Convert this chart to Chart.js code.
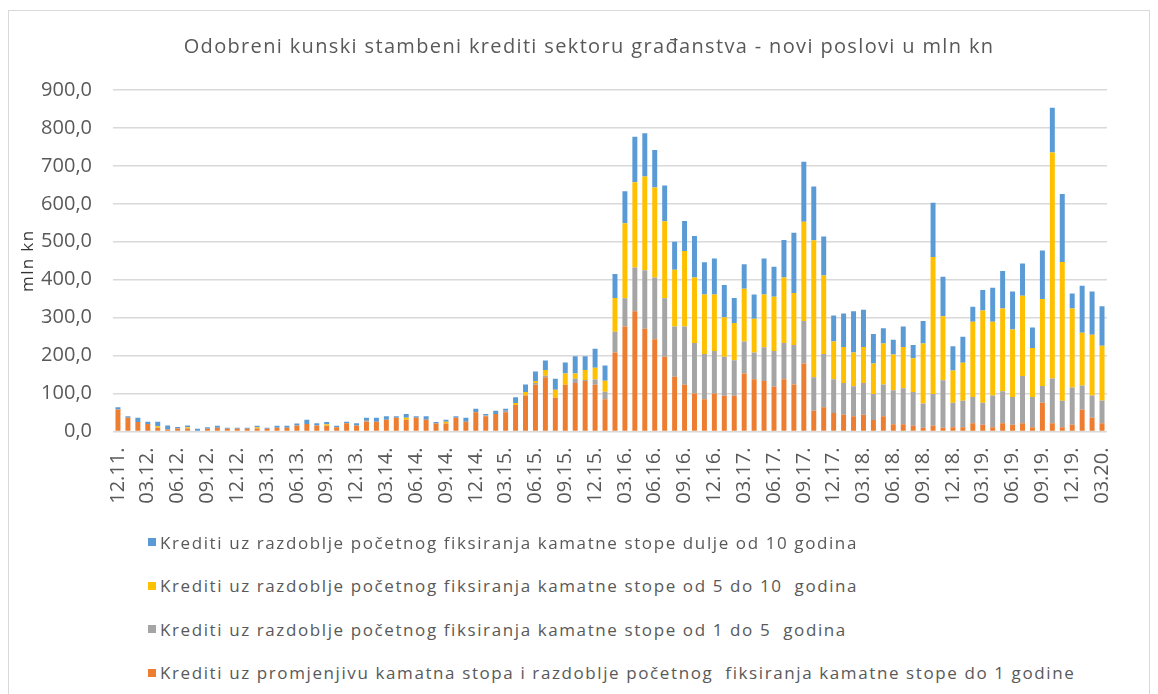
<!DOCTYPE html>
<html lang="hr">
<head>
<meta charset="UTF-8">
<title>Odobreni kunski stambeni krediti</title>
<script src="https://cdn.jsdelivr.net/npm/chart.js"></script>
<style>
  html, body { margin: 0; padding: 0; background: #fff; }
  body { width: 1158px; height: 694px; overflow: hidden; position: relative; font-family: "Open Sans", sans-serif; }
  .frame { position: absolute; left: 8px; top: 10px; width: 1140px; height: 700px; border: 1px solid #d9d9d9; }
  #chart { position: absolute; left: 0; top: 0; }
  .legend-row { position: absolute; left: 139px; height: 24px; display: flex; align-items: center; white-space: pre; color: #595959; font-size: 17px; letter-spacing: 1.6px; }
  .legend-box { display: inline-block; width: 8px; height: 8px; margin-right: 4px; }
</style>
</head>
<body>
<div class="frame">
  <canvas id="chart" width="1140" height="520"></canvas>
  <div id="legend"></div>
</div>
<script>
// mjeseci 12.11. - 03.20.
const months = [
  '12.11.',
  '01.12.', '02.12.', '03.12.', '04.12.', '05.12.', '06.12.', '07.12.', '08.12.', '09.12.', '10.12.', '11.12.', '12.12.',
  '01.13.', '02.13.', '03.13.', '04.13.', '05.13.', '06.13.', '07.13.', '08.13.', '09.13.', '10.13.', '11.13.', '12.13.',
  '01.14.', '02.14.', '03.14.', '04.14.', '05.14.', '06.14.', '07.14.', '08.14.', '09.14.', '10.14.', '11.14.', '12.14.',
  '01.15.', '02.15.', '03.15.', '04.15.', '05.15.', '06.15.', '07.15.', '08.15.', '09.15.', '10.15.', '11.15.', '12.15.',
  '01.16.', '02.16.', '03.16.', '04.16.', '05.16.', '06.16.', '07.16.', '08.16.', '09.16.', '10.16.', '11.16.', '12.16.',
  '01.17.', '02.17.', '03.17.', '04.17.', '05.17.', '06.17.', '07.17.', '08.17.', '09.17.', '10.17.', '11.17.', '12.17.',
  '01.18.', '02.18.', '03.18.', '04.18.', '05.18.', '06.18.', '07.18.', '08.18.', '09.18.', '10.18.', '11.18.', '12.18.',
  '01.19.', '02.19.', '03.19.', '04.19.', '05.19.', '06.19.', '07.19.', '08.19.', '09.19.', '10.19.', '11.19.', '12.19.',
  '01.20.', '02.20.', '03.20.'
];

// promjenjiva stopa / fiksno do 1 godine
const doJedne = [
  58, 36, 25, 20, 10, 5, 8, 8, 2, 7, 10, 7, 7, 7, 8, 7, 10, 10, 16, 20,
  16, 15, 11, 22, 16, 26, 26, 31, 36, 31, 36, 31, 21, 21, 36, 26, 51, 40, 46, 51,
  70, 95, 123, 143, 89, 123, 128, 133, 123, 85, 208, 277, 317, 271, 243, 197, 144, 123, 100, 85,
  100, 94, 94, 153, 138, 133, 118, 138, 124, 179, 55, 64, 49, 44, 40, 44, 30, 40, 19, 19,
  15, 10, 15, 10, 11, 11, 22, 18, 11, 22, 18, 22, 11, 76, 22, 11, 18, 57, 36, 22
];
// od 1 do 5 godina
const od1do5 = [
  0, 0, 0, 0, 0, 0, 0, 0, 0, 0, 0, 0, 0, 0, 0, 0, 0, 0, 0, 0,
  0, 0, 0, 0, 0, 4, 0, 0, 0, 0, 0, 0, 0, 0, 0, 0, 0, 2, 0, 4,
  0, 0, 5, 4, 0, 0, 11, 3, 14, 20, 55, 74, 115, 154, 163, 154, 133, 154, 133, 119,
  112, 103, 94, 84, 70, 89, 94, 95, 104, 112, 88, 140, 89, 84, 79, 84, 69, 84, 90, 95,
  89, 64, 84, 125, 65, 70, 69, 58, 84, 84, 73, 124, 80, 44, 118, 70, 98, 64, 59, 60
];
// od 5 do 10 godina
const od5do10 = [
  0, 0, 0, 0, 4, 0, 0, 3, 0, 0, 0, 0, 0, 0, 3, 0, 0, 0, 0, 0,
  0, 4, 0, 0, 0, 0, 0, 0, 0, 5, 0, 0, 0, 5, 0, 0, 0, 0, 0, 0,
  5, 9, 5, 15, 21, 30, 14, 26, 31, 29, 89, 198, 225, 247, 237, 203, 149, 199, 173, 157,
  149, 104, 98, 139, 89, 139, 143, 173, 137, 262, 361, 207, 99, 95, 89, 95, 80, 108, 94, 109,
  89, 158, 361, 169, 85, 100, 198, 243, 194, 218, 178, 212, 129, 229, 595, 366, 208, 139, 160, 144
];
// dulje od 10 godina
const dulje10 = [
  6, 4, 11, 6, 12, 11, 4, 5, 5, 4, 5, 3, 3, 3, 4, 3, 5, 5, 5, 11,
  6, 6, 4, 4, 6, 6, 10, 9, 4, 10, 4, 9, 4, 5, 4, 10, 9, 4, 9, 5,
  15, 20, 25, 25, 29, 29, 45, 36, 50, 40, 63, 84, 120, 114, 99, 94, 74, 79, 109, 85,
  95, 85, 66, 65, 64, 95, 79, 99, 159, 158, 142, 103, 69, 88, 109, 98, 78, 40, 39, 54,
  35, 59, 143, 104, 64, 69, 40, 54, 90, 99, 100, 85, 54, 128, 118, 179, 40, 124, 114, 104
];

const GREY_TEXT = '#595959';
const FONT = 'Open Sans';

// Excel naslov: razmaknuta slova i centriran malo desnije od grafa
const excelTitle = {
  id: 'excelTitle',
  afterLayout(chart) {
    chart.titleBlock.left += 54;
  },
  beforeDraw(chart) {
    chart.ctx.letterSpacing = '1.35px';
  },
  beforeDatasetsDraw(chart) {
    chart.ctx.letterSpacing = '0px';
  }
};

const ctx = document.getElementById('chart').getContext('2d');
const chart = new Chart(ctx, {
  type: 'bar',
  data: {
    labels: months,
    datasets: [
      { label: 'Krediti uz promjenjivu kamatna stopa i razdoblje početnog  fiksiranja kamatne stope do 1 godine', data: doJedne, backgroundColor: '#ED7D31' },
      { label: 'Krediti uz razdoblje početnog fiksiranja kamatne stope od 1 do 5  godina', data: od1do5, backgroundColor: '#A5A5A5' },
      { label: 'Krediti uz razdoblje početnog fiksiranja kamatne stope od 5 do 10  godina', data: od5do10, backgroundColor: '#FFC000' },
      { label: 'Krediti uz razdoblje početnog fiksiranja kamatne stope dulje od 10 godina', data: dulje10, backgroundColor: '#5B9BD5' }
    ]
  },
  options: {
    responsive: false,
    animation: false,
    datasets: { bar: { barPercentage: 0.5, categoryPercentage: 1 } },
    layout: { padding: { left: 8, right: 42, top: 0, bottom: 0 } },
    plugins: {
      legend: { display: false },
      tooltip: { enabled: false },
      title: {
        display: true,
        text: 'Odobreni kunski stambeni krediti sektoru građanstva - novi poslovi u mln kn',
        color: GREY_TEXT,
        font: { family: FONT, size: 20, weight: 'normal' },
        padding: { top: 24, bottom: 31 }
      }
    },
    scales: {
      x: {
        stacked: true,
        grid: { display: false },
        border: { display: false },
        ticks: {
          z: 1,
          autoSkip: false,
          minRotation: 90,
          maxRotation: 90,
          padding: 8,
          color: GREY_TEXT,
          font: { family: FONT, size: 20 },
          callback: function(v, i) { return i % 3 === 0 ? this.getLabelForValue(v) : null; }
        },
        afterFit: s => { s.height = 99.5; }
      },
      y: {
        stacked: true,
        min: 0,
        max: 900,
        grid: { color: '#d9d9d9', lineWidth: 1.5, drawTicks: false },
        border: { display: false },
        ticks: {
          z: 1,
          stepSize: 100,
          padding: 21,
          color: GREY_TEXT,
          font: { family: FONT, size: 20 },
          callback: v => v.toFixed(1).replace('.', ',')
        },
        title: {
          display: true,
          text: 'mln kn',
          color: '#333333',
          font: { family: FONT, size: 17 },
          padding: { top: 1, bottom: 0 }
        },
        afterFit: s => { s.width = 96; }
      }
    }
  },
  plugins: [excelTitle]
});

// legenda ispod grafa, obrnutim redom (kao u Excelu)
document.getElementById('legend').innerHTML = chart.data.datasets.slice().reverse().map((ds, k) =>
  `<div class="legend-row" style="top:${519 + k * 43.5}px"><span class="legend-box" style="background:${ds.backgroundColor}"></span>${ds.label}</div>`
).join('');
</script>
</body>
</html>
